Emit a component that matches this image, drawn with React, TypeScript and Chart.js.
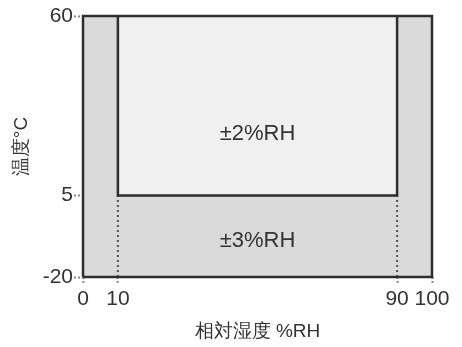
import React, { useEffect, useRef } from "react";
import { Chart, registerables } from "chart.js";

Chart.register(...registerables);

const X_TICKS = [0, 10, 90, 100];
const Y_TICKS = [-20, 5, 60];
const X_RANGE = [0, 100];
const Y_RANGE = [-20, 60];

// outer box (whole range) and inner box (±2%RH region)
const OUTER_X = [0, 0, 100, 100, 0];
const OUTER_Y = [-20, 60, 60, -20, -20];
const INNER_X = [10, 10, 90, 90];
const INNER_Y = [60, 5, 5, 60];
const DOT_LEFT_X = [10, 10];
const DOT_RIGHT_X = [90, 90];
const DOT_Y = [-20, 5];

const REGION_LABELS = ["±2%RH", "±3%RH"];
const LABEL_X = [50, 50];
const LABEL_Y = [24, -9];

const X_TITLE = "相対湿度 %RH";
const Y_TITLE = "温度°C";

const FONT = "'Liberation Sans', Arial, sans-serif";
const TEXT = "#333333";

const pts = (xs: number[], ys: number[]) => xs.map((x, i) => ({ x, y: ys[i] }));

export default function App() {
  const ref = useRef<HTMLCanvasElement | null>(null);

  useEffect(() => {
    if (!ref.current) return;
    const labelPlugin = {
      id: "regionLabels",
      afterDatasetsDraw(chart: any) {
        const { ctx, scales } = chart;
        ctx.save();
        ctx.fillStyle = TEXT;
        ctx.font = `22px ${FONT}`;
        ctx.textAlign = "center";
        ctx.textBaseline = "middle";
        REGION_LABELS.forEach((t, i) => {
          ctx.fillText(t, scales.x.getPixelForValue(LABEL_X[i]), scales.y.getPixelForValue(LABEL_Y[i]));
        });
        ctx.restore();
      },
    };
    const chart = new Chart(ref.current, {
      type: "line",
      data: {
        datasets: [
          {
            data: pts([OUTER_X[1], OUTER_X[2]], [OUTER_Y[1], OUTER_Y[2]]),
            fill: { value: Y_RANGE[0] },
            backgroundColor: "#dadada",
            borderWidth: 0,
            pointRadius: 0,
            order: 6,
          },
          {
            data: pts([INNER_X[0], INNER_X[3]], [INNER_Y[0], INNER_Y[3]]),
            fill: { value: INNER_Y[1] },
            backgroundColor: "#f0f0f0",
            borderWidth: 0,
            pointRadius: 0,
            order: 5,
          },
          {
            data: pts(DOT_LEFT_X, DOT_Y),
            borderColor: "#555555",
            borderWidth: 2,
            borderDash: [2, 3],
            pointRadius: 0,
            fill: false,
            order: 4,
          },
          {
            data: pts(DOT_RIGHT_X, DOT_Y),
            borderColor: "#555555",
            borderWidth: 2,
            borderDash: [2, 3],
            pointRadius: 0,
            fill: false,
            order: 3,
          },
          {
            data: pts(INNER_X, INNER_Y),
            borderColor: "#2e2e2e",
            borderWidth: 2.5,
            pointRadius: 0,
            fill: false,
            clip: false as any,
            order: 2,
          },
          {
            data: pts(OUTER_X, OUTER_Y),
            borderColor: "#2e2e2e",
            borderWidth: 2.5,
            pointRadius: 0,
            fill: false,
            clip: false as any,
            order: 1,
          },
        ],
      },
      options: {
        animation: false,
        responsive: false,
        maintainAspectRatio: false,
        layout: { padding: { top: 16, right: 30, left: 6, bottom: 0 } },
        plugins: { legend: { display: false }, tooltip: { enabled: false } },
        scales: {
          x: {
            type: "linear",
            min: X_RANGE[0],
            max: X_RANGE[1],
            afterBuildTicks: (s: any) => {
              s.ticks = X_TICKS.map((v) => ({ value: v }));
            },
            afterFit: (s: any) => {
              s.height = 70;
            },
            ticks: {
              autoSkip: false,
              maxRotation: 0,
              color: TEXT,
              font: { family: FONT, size: 21 },
              padding: 2,
            },
            grid: {
              drawOnChartArea: false,
              drawTicks: true,
              tickLength: 8,
              tickColor: "#888888",
              tickWidth: 2,
              tickBorderDash: [2, 2],
            },
            border: { display: false },
            title: {
              display: true,
              text: X_TITLE,
              color: TEXT,
              font: { family: FONT, size: 19 },
              padding: { top: 6 },
            },
          },
          y: {
            type: "linear",
            min: Y_RANGE[0],
            max: Y_RANGE[1],
            afterBuildTicks: (s: any) => {
              s.ticks = Y_TICKS.map((v) => ({ value: v }));
            },
            afterFit: (s: any) => {
              s.width = 77;
            },
            ticks: {
              autoSkip: false,
              color: TEXT,
              font: { family: FONT, size: 21 },
              padding: 1,
            },
            grid: {
              drawOnChartArea: false,
              drawTicks: true,
              tickLength: 9,
              tickColor: "#888888",
              tickWidth: 2,
              tickBorderDash: [2, 2],
            },
            border: { display: false },
            title: {
              display: true,
              text: Y_TITLE,
              color: TEXT,
              font: { family: FONT, size: 19 },
              padding: { top: 4, bottom: 0 },
            },
          },
        },
      },
      plugins: [labelPlugin],
    } as any);
    return () => chart.destroy();
  }, []);

  return (
    <div style={{ position: "fixed", left: 0, top: 0, width: 462, height: 347, background: "#fff" }}>
      <canvas ref={ref} width={462} height={347} style={{ display: "block" }} />
    </div>
  );
}
